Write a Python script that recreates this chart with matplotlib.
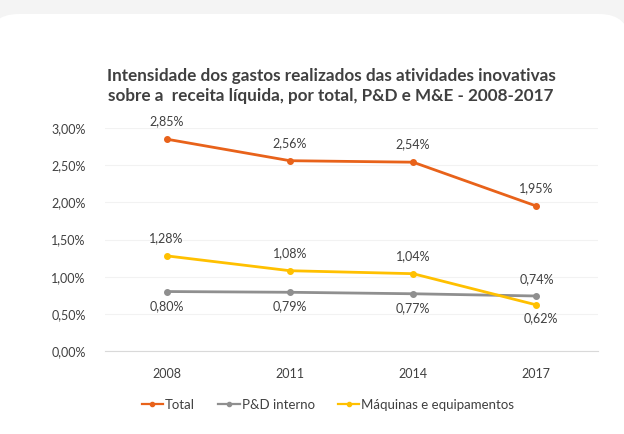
import matplotlib
matplotlib.use("Agg")
import matplotlib.pyplot as plt
from matplotlib.patches import FancyBboxPatch

years = ["2008", "2011", "2014", "2017"]
total = [2.85, 2.56, 2.54, 1.95]
pd_interno = [0.80, 0.79, 0.77, 0.74]
maquinas = [1.28, 1.08, 1.04, 0.62]
yticks = [0.0, 0.5, 1.0, 1.5, 2.0, 2.5, 3.0]
series_names = ["Total", "P&D interno", "Máquinas e equipamentos"]
title = ("Intensidade dos gastos realizados das atividades inovativas\n"
         "sobre a  receita líquida, por total, P&D e M&E - 2008-2017")

plt.rcParams['font.family'] = ['Lato', 'DejaVu Sans']

fig = plt.figure(figsize=(6.24, 4.34), dpi=100)
fig.patch.set_facecolor('#f4f4f4')
card = FancyBboxPatch((-0.02, -0.05), 1.03, 1.0 - 14/434 + 0.05,
                      boxstyle="round,pad=0,rounding_size=0.05",
                      transform=fig.transFigure, facecolor='white',
                      edgecolor='none', zorder=-5, mutation_aspect=624/434)
fig.patches.append(card)

ax = fig.add_axes([105/624, 1 - 351/434, (598-105)/624, (351-128)/434])
ax.set_zorder(2)
ax.set_facecolor('none')

c_total = '#e8621a'
c_pd = '#8f8f8f'
c_maq = '#ffc000'
x = list(range(len(years)))

ax.plot(x, total, color=c_total, lw=2, marker='o', ms=4, label=series_names[0], zorder=3)
ax.plot(x, pd_interno, color=c_pd, lw=2, marker='o', ms=4, label=series_names[1], zorder=3)
ax.plot(x, maquinas, color=c_maq, lw=2, marker='o', ms=4, label=series_names[2], zorder=3)

def fmt(v):
    return f"{v:.2f}".replace('.', ',') + '%'

lab_color = '#404040'
fs = 9
for i, v in enumerate(total):
    ax.annotate(fmt(v), (i, v), xytext=(0, 8.5), textcoords='offset points',
                ha='center', va='bottom', fontsize=fs, color=lab_color)
for i, v in enumerate(pd_interno):
    if i == 3:
        ax.annotate(fmt(v), (i, v), xytext=(0, 8), textcoords='offset points',
                    ha='center', va='bottom', fontsize=fs, color=lab_color)
    else:
        ax.annotate(fmt(v), (i, v), xytext=(0, -6), textcoords='offset points',
                    ha='center', va='top', fontsize=fs, color=lab_color)
for i, v in enumerate(maquinas):
    if i == 3:
        ax.annotate(fmt(v), (i, v), xytext=(3, -5), textcoords='offset points',
                    ha='center', va='top', fontsize=fs, color=lab_color)
    else:
        ax.annotate(fmt(v), (i, v), xytext=(0, 8.5), textcoords='offset points',
                    ha='center', va='bottom', fontsize=fs, color=lab_color)

ax.set_xlim(-0.5, 3.5)
ax.set_ylim(0, 3.0)
ax.set_yticks(yticks)
ax.set_yticklabels([fmt(t) for t in yticks])
ax.set_xticks(x)
ax.set_xticklabels(years)
ax.tick_params(axis='both', length=0, labelsize=9, colors='#404040')
ax.tick_params(axis='y', pad=14)
ax.tick_params(axis='x', pad=12)
ax.grid(axis='y', color='#f2f2f2', lw=0.8)
for s in ['top', 'right', 'left']:
    ax.spines[s].set_visible(False)
ax.spines['bottom'].set_color('#d9d9d9')
ax.set_axisbelow(True)

fig.text(331/624, 1 - 86/434, title, ha='center', va='center', fontsize=12.3,
         fontweight='bold', color='#404040', linespacing=1.35)

leg = fig.legend(loc='center', bbox_to_anchor=(328/624, 1 - 405/434), ncol=3,
                 frameon=False, fontsize=9.5, handlelength=1.6, handletextpad=0.15,
                 columnspacing=1.8, labelcolor='#404040')
for h in leg.legend_handles:
    h.set_markersize(3)
    h.set_linewidth(1.6)

fig.savefig('out.png', dpi=100, facecolor=fig.get_facecolor())
